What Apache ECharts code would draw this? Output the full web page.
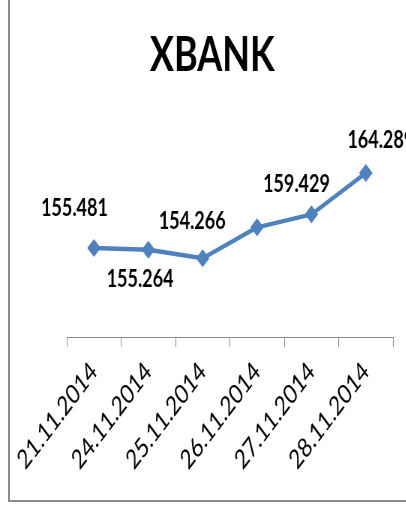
<!DOCTYPE html>
<html>
<head>
<meta charset="utf-8">
<script src="https://cdn.jsdelivr.net/npm/echarts@6/dist/echarts.min.js"></script>
<style>
  html, body { margin: 0; padding: 0; background: #fff; overflow: hidden; }
  #frame {
    position: absolute; left: 8px; top: -5px; width: 420px; height: 507px;
    box-sizing: border-box;
    border-left: 2px solid #8a8a8a; border-bottom: 2px solid #8a8a8a;
  }
  /* the reference picture is squeezed sideways, so draw wider and squeeze */
  #wrap {
    position: absolute; left: 0; top: 0; width: 541px; height: 511px;
    transform: scaleX(0.75); transform-origin: 0 0;
  }
  #main { width: 541px; height: 511px; }
</style>
</head>
<body>
<div id="frame"></div>
<div id="wrap"><div id="main"></div></div>
<script>
var dates = ['21.11.2014', '24.11.2014', '25.11.2014', '26.11.2014', '27.11.2014', '28.11.2014'];
var prices = [155.481, 155.264, 154.266, 157.9, 159.429, 164.289];
var shownLabels = [true, true, true, false, true, true];

// hand placed labels, like in the spreadsheet
var labelShift = [[-26, -40], [-11, 30], [-14, -37], [0, 0], [-20, -30], [20, -33]];

var myChart = echarts.init(document.getElementById('main'));

var points = prices.map(function (v, i) {
    return {
        value: v,
        label: { show: shownLabels[i], offset: labelShift[i] }
    };
});

var option = {
    animation: false,
    title: {
        text: 'XBANK',
        left: 278,
        textAlign: 'center',
        top: 27,
        textStyle: { fontFamily: 'Lato', fontWeight: 'bold', fontSize: 48, color: '#000' }
    },
    grid: { left: 89, right: 17, top: 150, bottom: 174 },
    xAxis: {
        type: 'category',
        data: dates,
        boundaryGap: true,
        axisLine: { lineStyle: { color: '#8a8a8a', width: 1 } },
        axisTick: { show: true, length: 10, lineStyle: { color: '#8a8a8a' } },
        axisLabel: {
            rotate: 45,
            margin: 30,
            interval: 0,
            fontFamily: 'Lato',
            fontSize: 27,
            color: '#000'
        }
    },
    yAxis: {
        type: 'value',
        min: 145,
        max: 167,
        show: false,
        splitLine: { show: false }
    },
    series: [{
        name: 'XBANK',
        type: 'line',
        data: points,
        symbol: 'diamond',
        symbolSize: 18,
        lineStyle: { color: '#4f81bd', width: 4.5 },
        itemStyle: { color: '#4f81bd' },
        label: {
            position: 'inside',
            fontFamily: 'Lato',
            fontWeight: 'bold',
            fontSize: 24,
            color: '#000',
            formatter: function (p) { return p.value.toFixed(3); }
        }
    }]
};

myChart.setOption(option);
</script>
</body>
</html>
